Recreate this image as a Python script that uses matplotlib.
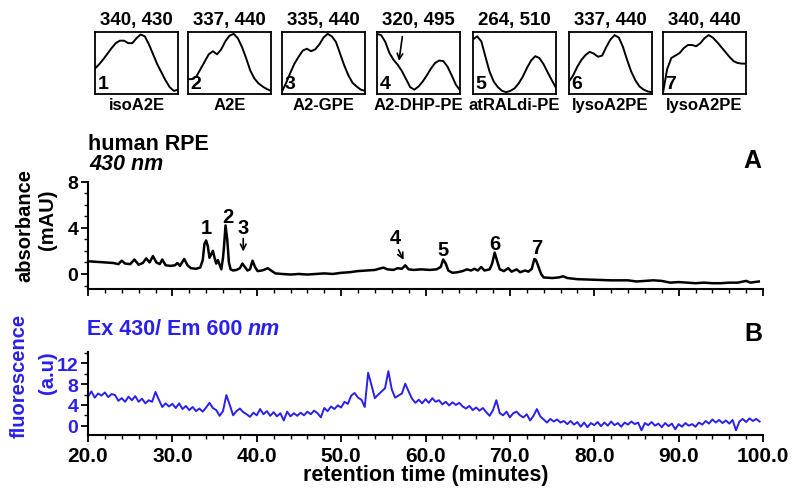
import numpy as np
import matplotlib
matplotlib.use("Agg")
import matplotlib.pyplot as plt
from matplotlib.ticker import MultipleLocator, FormatStrFormatter

plt.rcParams["font.family"] = "Liberation Sans"
plt.rcParams["font.weight"] = "bold"

BLUE = "#2a20ea"

# ------------------------------------------------------------
# UV-vis spectra of the 7 peaks (relative absorbance, 21 points each)
# ------------------------------------------------------------
spec_titles = ["340, 430", "337, 440", "335, 440", "320, 495", "264, 510", "337, 440", "340, 440"]
spec_names = ["isoA2E", "A2E", "A2-GPE", "A2-DHP-PE", "atRALdi-PE", "lysoA2PE", "lysoA2PE"]
spec_x = np.linspace(0, 1, 21)
spec_1 = [.41, .48, .56, .65, .74, .82, .86, .86, .82, .82, .90, .96, .93, .80, .64, .48, .35, .22, .11, .05, .07]
spec_2 = [.24, .24, .28, .40, .52, .64, .69, .64, .72, .85, .94, .97, .90, .76, .58, .38, .25, .17, .12, .08, .05]
spec_3 = [.04, .18, .34, .49, .60, .70, .73, .69, .72, .80, .91, .97, .93, .84, .65, .46, .30, .18, .12, .07, .05]
spec_4 = [.97, .95, .84, .66, .55, .47, .37, .24, .11, .07, .12, .20, .30, .41, .50, .54, .53, .44, .30, .15, .06]
spec_5 = [.88, .93, .85, .60, .36, .20, .11, .05, .03, .05, .09, .17, .28, .42, .54, .61, .58, .48, .35, .22, .10]
spec_6 = [.20, .30, .44, .55, .63, .68, .65, .60, .62, .76, .88, .95, .91, .76, .55, .36, .22, .12, .07, .04, .03]
spec_7 = [.02, .40, .58, .62, .66, .74, .79, .79, .77, .82, .90, .95, .91, .84, .76, .68, .60, .53, .50, .49, .49]
spectra = [spec_1, spec_2, spec_3, spec_4, spec_5, spec_6, spec_7]

# ------------------------------------------------------------
# A : absorbance 430 nm (mAU) vs retention time (min)
# ------------------------------------------------------------
abs_t = [20.0, 21.0, 22.0, 23.0, 23.6, 24.0, 24.4, 25.0, 25.5, 26.0, 26.5, 26.9, 27.3, 27.7, 28.1,
         28.5, 28.8, 29.2, 29.8, 30.3, 30.6, 30.9, 31.4, 31.8, 32.2, 32.8, 33.3, 33.6, 33.8, 34.0,
         34.2, 34.4, 34.6, 34.8, 35.0, 35.2, 35.4, 35.6, 35.8, 36.0, 36.1, 36.3, 36.5, 36.7, 36.9,
         37.2, 37.6, 38.0, 38.3, 38.6, 38.9, 39.2, 39.5, 39.8, 40.1, 40.6, 41.0, 41.3, 41.7, 42.2,
         43.0, 44.0, 45.0, 46.0, 47.0, 48.0, 49.0, 50.0, 51.0, 52.0, 53.0, 54.0, 55.0, 55.5, 56.2,
         56.7, 57.2, 57.6, 58.0, 58.6, 59.5, 60.5, 61.3, 61.8, 62.1, 62.4, 62.7, 63.2, 63.8, 64.4,
         64.9, 65.4, 65.8, 66.2, 66.6, 67.0, 67.6, 67.9, 68.2, 68.5, 68.8, 69.3, 69.8, 70.2, 70.8,
         71.2, 71.8, 72.2, 72.6, 72.9, 73.1, 73.4, 73.7, 74.0, 75.0, 75.8, 76.3, 76.8, 78.0, 80.0,
         82.0, 84.0, 85.0, 86.0, 87.0, 88.0, 89.0, 90.0, 91.0, 92.0, 93.0, 94.0, 95.0, 96.0, 97.0,
         98.0, 98.5, 99.5]
abs_v = [1.10, 1.05, 1.00, 0.95, 0.85, 1.15, 0.90, 0.85, 1.25, 0.80, 0.95, 1.35, 1.00, 1.55, 1.00,
         0.85, 1.25, 0.75, 0.70, 0.75, 0.95, 0.70, 1.30, 0.75, 0.50, 0.45, 0.55, 1.20, 2.60, 2.90,
         2.40, 1.40, 1.70, 2.00, 1.40, 0.90, 1.20, 0.80, 0.40, 1.40, 2.20, 4.20, 3.00, 1.00, 0.40,
         0.30, 0.35, 0.50, 0.90, 0.60, 0.30, 0.40, 1.15, 0.60, 0.25, 0.30, 0.40, 0.50, 0.30, 0.05,
         0.00, -0.05, 0.00, -0.05, 0.00, 0.05, 0.00, 0.10, 0.15, 0.25, 0.30, 0.35, 0.55, 0.40, 0.35,
         0.50, 0.45, 0.75, 0.40, 0.35, 0.40, 0.35, 0.40, 0.60, 1.25, 0.90, 0.30, 0.10, 0.15, 0.25,
         0.40, 0.30, 0.45, 0.30, 0.60, 0.30, 0.40, 0.90, 1.85, 1.10, 0.40, 0.25, 0.50, 0.20, 0.40,
         0.15, 0.30, 0.20, 0.45, 1.30, 1.20, 0.60, 0.00, -0.30, -0.35, -0.30, -0.20, -0.35, -0.45, -0.50,
         -0.55, -0.55, -0.65, -0.60, -0.55, -0.60, -0.75, -0.70, -0.75, -0.80, -0.75, -0.80, -0.80, -0.75, -0.75,
         -0.60, -0.75, -0.65]

# peak numbers and where they sit (time, mAU)
peak_ids = ["1", "2", "3", "4", "5", "6", "7"]
peak_t = [34.06, 36.55, 38.4, 56.4, 62.1, 68.2, 73.2]
peak_lab_v = [4.0, 5.0, 4.0, 3.16, 2.15, 2.6, 2.3]

# ------------------------------------------------------------
# B : fluorescence Ex 430 / Em 600 (a.u), one point every 0.4 min
# ------------------------------------------------------------
fl_t0, fl_dt = 20.0, 0.4
fl_v = [5.6, 6.6, 5.4, 6.2, 5.8, 6.4, 5.5, 6.1, 5.9, 4.8,
        5.3, 4.6, 5.6, 4.9, 5.7, 4.6, 5.2, 4.3, 4.9, 4.6,
        6.5, 5.0, 3.6, 4.3, 3.7, 4.2, 3.4, 4.3, 3.2, 3.8,
        3.0, 3.6, 2.8, 3.3, 2.7, 3.5, 4.4, 3.4, 3.0, 1.9,
        2.8, 5.9, 4.0, 2.0, 2.8, 3.3, 2.6, 2.2, 1.7, 2.5,
        2.0, 3.2, 2.2, 2.8, 1.9, 2.6, 1.8, 2.4, 1.0, 2.7,
        1.8, 2.4, 1.9, 2.5, 2.0, 2.7, 2.2, 2.9, 2.4, 1.6,
        3.4, 2.8, 3.7, 3.2, 3.9, 3.5, 4.6, 4.2, 5.8, 6.3,
        5.4, 5.0, 3.6, 10.2, 7.8, 5.3, 6.0, 6.6, 7.2, 10.5,
        7.0, 5.4, 5.8, 6.2, 8.1, 6.6, 5.2, 4.4, 5.0, 4.3,
        5.1, 4.4, 5.3, 4.6, 4.9, 4.1, 4.6, 3.9, 4.5, 4.0,
        4.4, 3.7, 3.3, 3.8, 3.0, 3.5, 2.9, 3.4, 2.6, 1.9,
        3.0, 4.9, 2.4, 2.0, 2.7, 1.6, 2.4, 2.7, 2.0, 1.6,
        2.2, 1.0, 1.9, 3.2, 1.8, 1.2, 0.6, 1.3, 0.8, 1.2,
        0.6, 0.9, 0.3, 0.9, 0.2, 0.7, -0.2, 0.6, -0.3, 0.5,
        0.1, 0.7, -0.1, 0.6, 0.0, 0.8, 0.1, 0.5, -0.2, 0.6,
        0.2, 0.8, 0.3, 0.6, -0.9, 0.5, 0.1, 0.7, 0.0, 0.4,
        -0.3, 0.5, -0.1, 0.4, -0.7, 0.3, -0.2, 0.5, 0.0, 0.3,
        -0.2, 0.6, 0.2, 0.9, 0.4, 1.2, 0.6, 1.1, 0.5, 1.0,
        0.4, 1.1, -0.9, 0.8, 1.3, 0.7, 1.4, 0.9, 1.3, 0.8]
fl_t = fl_t0 + fl_dt * np.arange(len(fl_v))

# ------------------------------------------------------------
# figure (positions worked out in pixels of the 795x489 image)
# ------------------------------------------------------------
W, H = 795, 489
fig = plt.figure(figsize=(W / 100, H / 100), dpi=100)


def rect(left, top, right, bottom):
    return [left / W, 1 - bottom / H, (right - left) / W, (bottom - top) / H]


def ftext(x, y, s, **kw):
    return fig.text(x / W, 1 - y / H, s, **kw)


# --- the small spectra on top
box_left = [95, 188, 282, 377, 473, 569, 663]
for i, spec in enumerate(spectra):
    l = box_left[i]
    ax = fig.add_axes(rect(l, 33, l + 83, 95))
    ax.plot(spec_x, spec, color="black", lw=1.4)
    ax.set_xlim(0, 1)
    ax.set_ylim(0, 1)
    ax.set_xticks([])
    ax.set_yticks([])
    for sp in ax.spines.values():
        sp.set_linewidth(1.3)
    ax.text(0.03, 0.04, str(i + 1), transform=ax.transAxes, fontsize=14, ha="left", va="bottom")
    ftext(l + 41.5, 21, spec_titles[i], fontsize=13.5, ha="center", va="center")
    ftext(l + 41.5, 106, spec_names[i], fontsize=12, ha="center", va="center")
    if i == 3:
        ax.annotate("", xy=(0.26, 0.49), xytext=(0.31, 0.97),
                    arrowprops=dict(arrowstyle="->", lw=1.2, color="black"))


def style_axis(ax):
    for side in ["top", "right"]:
        ax.spines[side].set_visible(False)
    for side in ["left", "bottom"]:
        ax.spines[side].set_linewidth(1.5)
    ax.set_xlim(20, 100)
    ax.xaxis.set_major_locator(MultipleLocator(10))
    ax.xaxis.set_minor_locator(MultipleLocator(2))
    ax.tick_params(which="major", length=5, width=1.3, direction="out")
    ax.tick_params(which="minor", length=3, width=1.0, direction="out")


# --- A : absorbance
axA = fig.add_axes(rect(88, 182.5, 763, 290))
axA.plot(abs_t, abs_v, color="black", lw=1.8)
style_axis(axA)
axA.set_ylim(-1.3, 8)
axA.yaxis.set_major_locator(MultipleLocator(4))
axA.yaxis.set_minor_locator(MultipleLocator(1))
axA.tick_params(axis="x", labelbottom=False)
axA.tick_params(axis="y", labelsize=14, pad=2)
for pid, t, v in zip(peak_ids, peak_t, peak_lab_v):
    axA.text(t, v, pid, fontsize=14.5, ha="center", va="center")
axA.annotate("", xy=(38.4, 1.7), xytext=(38.4, 3.3),
             arrowprops=dict(arrowstyle="->", lw=1.2, color="black"))
axA.annotate("", xy=(57.56, 1.0), xytext=(56.65, 2.3),
             arrowprops=dict(arrowstyle="->", lw=1.2, color="black"))

ftext(88, 145, "human RPE", fontsize=15.5, ha="left", va="center")
ftext(89, 165, "430 nm", fontsize=15.5, style="italic", ha="left", va="center")
ftext(752, 161, "A", fontsize=18, ha="center", va="center")
ftext(25, 226, "absorbance", fontsize=14.5, rotation=90, ha="center", va="center")
ftext(47, 220, "(mAU)", fontsize=14.5, rotation=90, ha="center", va="center")

# --- B : fluorescence
axB = fig.add_axes(rect(88, 353, 763, 436))
axB.plot(fl_t, fl_v, color=BLUE, lw=1.4)
style_axis(axB)
axB.set_ylim(-1.8, 14.2)
axB.yaxis.set_major_locator(MultipleLocator(4))
axB.yaxis.set_minor_locator(MultipleLocator(2))
axB.xaxis.set_major_formatter(FormatStrFormatter("%.1f"))
axB.tick_params(axis="x", labelsize=15, pad=3)
axB.tick_params(axis="y", labelsize=14, pad=2, labelcolor=BLUE)

# "Ex 430/ Em 600" upright, "nm" italic right after it
ex_txt = ftext(87, 330, "Ex 430/ Em 600", fontsize=15.5, color=BLUE, ha="left", va="center")
renderer = fig.canvas.get_renderer()
ex_box = ex_txt.get_window_extent(renderer)
ftext(ex_box.x1 + 5, 330, "nm", fontsize=15.5, color=BLUE, style="italic", ha="left", va="center")
ftext(753, 334, "B", fontsize=18, ha="center", va="center")
ftext(19, 376, "fluorescence", fontsize=14.5, color=BLUE, rotation=90, ha="center", va="center")
ftext(48, 373, "(a.u)", fontsize=14.5, color=BLUE, rotation=90, ha="center", va="center")

ftext(426, 476, "retention time (minutes)", fontsize=15.5, ha="center", va="center")

fig.savefig("out.png", dpi=100)
